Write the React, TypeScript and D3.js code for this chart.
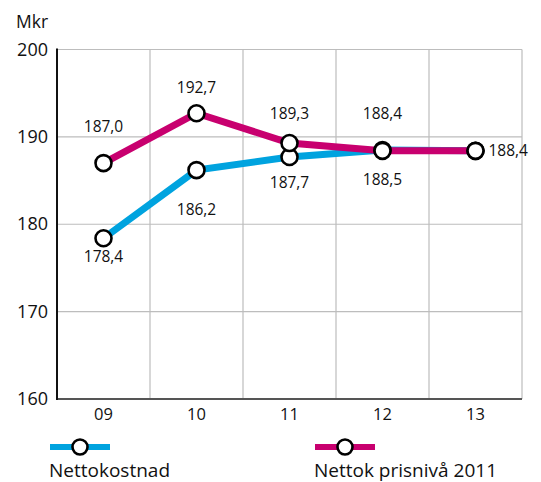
import React from "react";
import * as d3 from "d3";

const categories = ["09", "10", "11", "12", "13"];
const nettokostnad = [178.4, 186.2, 187.7, 188.5, 188.4];
const prisniva2011 = [187.0, 192.7, 189.3, 188.4, 188.4];
const yTicks = [160, 170, 180, 190, 200];
const seriesNames = ["Nettokostnad", "Nettok prisnivå 2011"];
// label placement: baseline offset from point (px), per point
const blueLabelDy = [24, 45, 31, 35, null];
const pinkLabelDy = [-31, -20, -24, -32, null];

const W = 541;
const H = 482;
const M = { left: 57, right: 19, top: 49.5, bottom: 83 };
const BLUE = "#00a3df";
const PINK = "#c8006f";
const FONT = "'Open Sans', 'Noto Sans', sans-serif";

const fmt = (v: number) => v.toFixed(1).replace(".", ",");

export default function App() {
  const x = d3
    .scaleBand<string>()
    .domain(categories)
    .range([M.left, W - M.right])
    .padding(0);
  const y = d3.scaleLinear().domain([160, 200]).range([H - M.bottom, M.top]);
  const cx = (c: string) => (x(c) as number) + x.bandwidth() / 2;

  const line = d3
    .line<number>()
    .x((_, i) => cx(categories[i]))
    .y((d) => y(d));

  const bands = categories.map((c) => x(c) as number);
  const x0 = M.left;
  const x1 = W - M.right;
  const y0 = y(160);
  const yTop = y(200);

  return (
    <svg
      width={W}
      height={H}
      style={{ position: "absolute", left: 0, top: 0, background: "#fff" }}
      fontFamily={FONT}
    >
      {/* grid */}
      {yTicks.slice(1).map((t) => (
        <line key={"h" + t} x1={x0} x2={x1} y1={y(t)} y2={y(t)} stroke="#bdbdbd" strokeWidth={1.2} />
      ))}
      {bands.slice(1).map((b, i) => (
        <line key={"v" + i} x1={b} x2={b} y1={yTop} y2={y0} stroke="#bdbdbd" strokeWidth={1.2} />
      ))}
      <line x1={x1} x2={x1} y1={yTop} y2={y0} stroke="#bdbdbd" strokeWidth={1.2} />
      {/* axes */}
      <line x1={x0} x2={x1} y1={y0} y2={y0} stroke="#555" strokeWidth={2} />
      <line x1={x0} x2={x0} y1={yTop - 1} y2={y0 + 1} stroke="#111" strokeWidth={2} />

      {/* y ticks */}
      {yTicks.map((t) => (
        <text key={"yt" + t} x={48} y={y(t) + 6} textAnchor="end" fontSize={18} fill="#111">
          {t}
        </text>
      ))}
      <text x={16} y={28} fontSize={17.5} fill="#111">
        Mkr
      </text>

      {/* x ticks */}
      {categories.map((c) => (
        <text key={"xt" + c} x={cx(c)} y={420} textAnchor="middle" fontSize={16.5} fill="#111">
          {c}
        </text>
      ))}

      {/* lines */}
      <path d={line(nettokostnad) || ""} fill="none" stroke={BLUE} strokeWidth={7} />
      <path d={line(prisniva2011) || ""} fill="none" stroke={PINK} strokeWidth={7} />

      {/* markers */}
      {nettokostnad.map((v, i) => (
        <circle key={"bm" + i} cx={cx(categories[i])} cy={y(v)} r={8} fill="#fff" stroke="#000" strokeWidth={2.6} />
      ))}
      {prisniva2011.map((v, i) => (
        <circle key={"pm" + i} cx={cx(categories[i])} cy={y(v)} r={8} fill="#fff" stroke="#000" strokeWidth={2.6} />
      ))}

      {/* value labels */}
      {nettokostnad.map((v, i) =>
        blueLabelDy[i] == null ? null : (
          <text key={"bl" + i} x={cx(categories[i])} y={y(v) + (blueLabelDy[i] as number)} textAnchor="middle" fontSize={15.5} fill="#111">
            {fmt(v)}
          </text>
        )
      )}
      {prisniva2011.map((v, i) =>
        pinkLabelDy[i] == null ? null : (
          <text key={"pl" + i} x={cx(categories[i])} y={y(v) + (pinkLabelDy[i] as number)} textAnchor="middle" fontSize={15.5} fill="#111">
            {fmt(v)}
          </text>
        )
      )}
      <text x={cx(categories[4]) + 13} y={y(prisniva2011[4]) + 5.5} fontSize={15.5} fill="#111">
        {fmt(prisniva2011[4])}
      </text>

      {/* legend */}
      {[BLUE, PINK].map((col, i) => {
        const lx = i === 0 ? 50 : 315;
        return (
          <g key={"lg" + i}>
            <line x1={lx} x2={lx + 60} y1={447} y2={447} stroke={col} strokeWidth={6} />
            <circle cx={lx + 30} cy={447} r={7.5} fill="#fff" stroke="#000" strokeWidth={2.6} />
            <text x={lx - 1} y={477} fontSize={19} fill="#111">
              {seriesNames[i]}
            </text>
          </g>
        );
      })}
    </svg>
  );
}
